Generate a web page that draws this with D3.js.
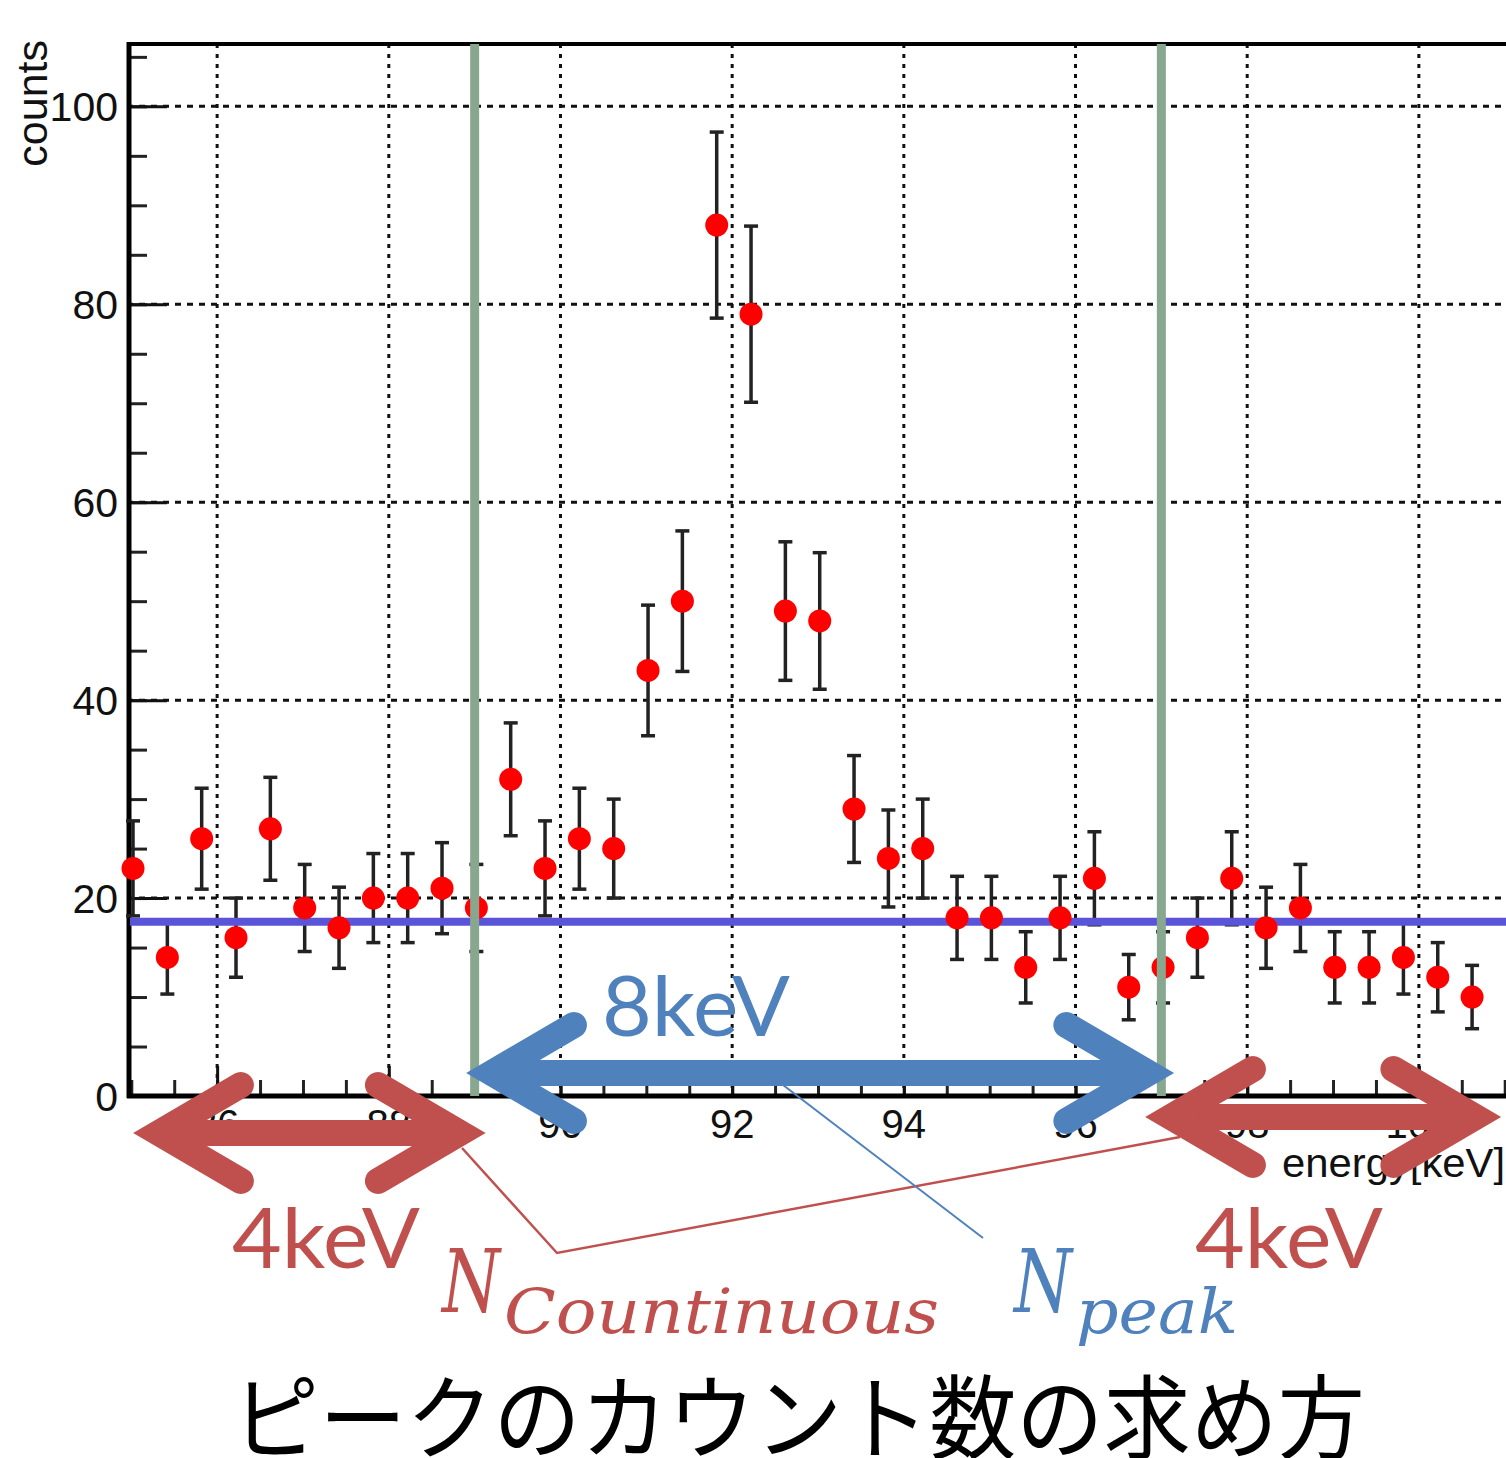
<!DOCTYPE html>
<html>
<head>
<meta charset="utf-8">
<script src="https://cdn.jsdelivr.net/npm/d3@7"></script>
<style>
  body { margin: 0; background: #fff; }
  svg { display: block; }
</style>
</head>
<body>
<svg id="chart"></svg>
<script>
// bin centres (keV) and counts
const energy = [85.02, 85.42, 85.82, 86.22, 86.62, 87.02, 87.42, 87.82, 88.22, 88.62,
                89.02, 89.42, 89.82, 90.22, 90.62, 91.02, 91.42, 91.82, 92.22, 92.62,
                93.02, 93.42, 93.82, 94.22, 94.62, 95.02, 95.42, 95.82, 96.22, 96.62,
                97.02, 97.42, 97.82, 98.22, 98.62, 99.02, 99.42, 99.82, 100.22, 100.62]
const counts = [23, 14, 26, 16, 27, 19, 17, 20, 20, 21,
                19, 32, 23, 26, 25, 43, 50, 88, 79, 49,
                48, 29, 24, 25, 18, 18, 13, 18, 22, 11,
                13, 16, 22, 17, 19, 13, 13, 14, 12, 10]
const errors = [4.8, 3.7, 5.1, 4.0, 5.2, 4.4, 4.1, 4.5, 4.5, 4.6,
                4.4, 5.7, 4.8, 5.1, 5.0, 6.6, 7.1, 9.4, 8.9, 7.0,
                6.9, 5.4, 4.9, 5.0, 4.2, 4.2, 3.6, 4.2, 4.7, 3.3,
                3.6, 4.0, 4.7, 4.1, 4.4, 3.6, 3.6, 3.7, 3.5, 3.2]
const xTicks = [86, 88, 90, 92, 94, 96, 98, 100]
const yTicks = [0, 20, 40, 60, 80, 100]
const background = 17.6      // flat continuum level
const windowEdges = [89, 97] // peak window

const width = 1506
let height = 1458

const x = d3.scaleLinear().domain([84.95, 101.05]).range([127, 1509])
const y = d3.scaleLinear().domain([0, 106.3]).range([1096, 44])

const svg = d3.select("#chart")
    .attr("width", width)
    .attr("height", height)
    .attr("viewBox", [0, 0, width, height])

const helv = "Liberation Sans, Arial, sans-serif"

// grid
const grid = svg.append("g").attr("stroke", "#111").attr("stroke-width", 3)
grid.selectAll(".gx")
  .data(xTicks)
  .join("line")
    .attr("x1", d => x(d)).attr("x2", d => x(d))
    .attr("y1", y.range()[1]).attr("y2", y.range()[0])
    .attr("stroke-dasharray", "4,6")
grid.selectAll(".gy")
  .data(yTicks.slice(1))
  .join("line")
    .attr("x1", x.range()[0]).attr("x2", x.range()[1])
    .attr("y1", d => y(d)).attr("y2", d => y(d))
    .attr("stroke-dasharray", "6,6")

// axes with ROOT-like minor ticks
svg.append("g").attr("transform", `translate(0,${y(0)})`)
  .call(d3.axisTop(x).tickValues(d3.range(85, 101.01, 0.5)).tickSize(16).tickFormat(""))
  .call(g => g.select(".domain").remove())
  .call(g => g.selectAll("line").attr("stroke", "#222").attr("stroke-width", 3))
svg.append("g").attr("transform", `translate(0,${y(0)})`)
  .call(d3.axisTop(x).tickValues(xTicks).tickSize(30).tickFormat(""))
  .call(g => g.select(".domain").remove())
  .call(g => g.selectAll("line").attr("stroke", "#111").attr("stroke-width", 3))
svg.append("g").attr("transform", `translate(${x.range()[0]},0)`)
  .call(d3.axisRight(y).tickValues(d3.range(5, 106, 5)).tickSize(20).tickFormat(""))
  .call(g => g.select(".domain").remove())
  .call(g => g.selectAll("line").attr("stroke", "#222").attr("stroke-width", 3))
svg.append("g").attr("transform", `translate(${x.range()[0]},0)`)
  .call(d3.axisRight(y).tickValues(yTicks).tickSize(40).tickFormat(""))
  .call(g => g.select(".domain").remove())
  .call(g => g.selectAll("line").attr("stroke", "#111").attr("stroke-width", 3))

// frame
svg.append("line").attr("x1", 129).attr("x2", 129).attr("y1", 42).attr("y2", 1098)
    .attr("stroke", "#000").attr("stroke-width", 5)
svg.append("line").attr("x1", 127).attr("x2", width).attr("y1", y(0)).attr("y2", y(0))
    .attr("stroke", "#000").attr("stroke-width", 5)
svg.append("line").attr("x1", 127).attr("x2", width).attr("y1", 44).attr("y2", 44)
    .attr("stroke", "#000").attr("stroke-width", 4)

// tick labels
svg.append("g")
    .attr("font-family", helv).attr("font-size", 40).attr("fill", "#111")
    .attr("text-anchor", "middle")
  .selectAll("text")
  .data(xTicks)
  .join("text")
    .attr("x", d => x(d)).attr("y", 1138)
    .text(d => d)
svg.append("g")
    .attr("font-family", helv).attr("font-size", 41).attr("fill", "#111")
    .attr("text-anchor", "end")
  .selectAll("text")
  .data(yTicks)
  .join("text")
    .attr("x", 118).attr("y", d => y(d) + 15)
    .text(d => d)

svg.append("text")
    .attr("transform", "translate(47,40) rotate(-90)")
    .attr("text-anchor", "end")
    .attr("font-family", helv).attr("font-size", 43).attr("fill", "#111")
    .text("counts")
svg.append("text")
    .attr("x", 1282).attr("y", 1177)
    .attr("font-family", helv).attr("font-size", 41).attr("fill", "#111")
    .attr("textLength", 223).attr("lengthAdjust", "spacingAndGlyphs")
    .text("energy[keV]")

// error bars
const bars = svg.append("g").attr("stroke", "#222").attr("stroke-width", 3.5)
bars.selectAll(".v")
  .data(energy)
  .join("line")
    .attr("x1", d => x(d)).attr("x2", d => x(d))
    .attr("y1", (d, i) => y(counts[i] + errors[i]))
    .attr("y2", (d, i) => y(counts[i] - errors[i]))
bars.selectAll(".cap")
  .data(energy.flatMap((d, i) => [[d, counts[i] + errors[i]], [d, counts[i] - errors[i]]]))
  .join("line")
    .attr("x1", d => x(d[0]) - 7).attr("x2", d => x(d[0]) + 7)
    .attr("y1", d => y(d[1])).attr("y2", d => y(d[1]))

// background level
svg.append("line")
    .attr("x1", 130).attr("x2", width)
    .attr("y1", y(background)).attr("y2", y(background))
    .attr("stroke", "#5a55d8").attr("stroke-width", 8)

// points
svg.append("g").attr("fill", "#ff0000")
  .selectAll("circle")
  .data(energy)
  .join("circle")
    .attr("cx", d => x(d))
    .attr("cy", (d, i) => y(counts[i]))
    .attr("r", 11.5)

// window lines
svg.append("g").attr("stroke", "#88a78f").attr("stroke-width", 9)
  .selectAll("line")
  .data(windowEdges)
  .join("line")
    .attr("x1", d => x(d)).attr("x2", d => x(d))
    .attr("y1", 44).attr("y2", y(0))

// ---- annotations ----
const blue = "#4f81bd", red = "#c0504d"

function doubleArrow(x1, x2, yy, color) {
  const L = 107, H = 48, w = 26, inset = 25
  const g = svg.append("g").attr("fill", "none").attr("stroke", color).attr("stroke-width", w)
  g.append("line").attr("x1", x1 + inset).attr("x2", x2 - inset).attr("y1", yy).attr("y2", yy)
  g.append("path")
      .attr("d", `M${x1 + L},${yy - H}L${x1 + inset},${yy}L${x1 + L},${yy + H}`)
      .attr("stroke-linejoin", "miter").attr("stroke-linecap", "round")
  g.append("path")
      .attr("d", `M${x2 - L},${yy - H}L${x2 - inset},${yy}L${x2 - L},${yy + H}`)
      .attr("stroke-linejoin", "miter").attr("stroke-linecap", "round")
}

// thin leader lines
svg.append("polyline")
    .attr("points", "462,1148 557,1253 1180,1137")
    .attr("fill", "none").attr("stroke", red).attr("stroke-width", 2.5)
svg.append("line")
    .attr("x1", 770).attr("y1", 1075).attr("x2", 983).attr("y2", 1238)
    .attr("stroke", blue).attr("stroke-width", 2)

doubleArrow(x(88.91), x(97.14), 1073, blue)
doubleArrow(x(85.03), x(89.12), 1133, red)
doubleArrow(x(96.82), x(100.95), 1117, red)

const calib = "Lato, Carlito, sans-serif"
svg.append("text").attr("x", 602).attr("y", 1036)
    .attr("font-family", calib).attr("font-size", 84).attr("fill", blue)
    .attr("textLength", 188).attr("lengthAdjust", "spacingAndGlyphs")
    .text("8keV")
svg.append("text").attr("x", 232).attr("y", 1268)
    .attr("font-family", calib).attr("font-size", 84).attr("fill", red)
    .attr("textLength", 188).attr("lengthAdjust", "spacingAndGlyphs")
    .text("4keV")
svg.append("text").attr("x", 1195).attr("y", 1268)
    .attr("font-family", calib).attr("font-size", 84).attr("fill", red)
    .attr("textLength", 188).attr("lengthAdjust", "spacingAndGlyphs")
    .text("4keV")

const serif = "DejaVu Serif, serif"
function mathLabel(x0, base, main, sub, subLen, color) {
  const t = svg.append("text").attr("font-family", serif).attr("font-style", "italic")
      .attr("fill", color)
  t.append("tspan").attr("x", x0).attr("y", base).attr("font-size", 88)
      .attr("textLength", 58).attr("lengthAdjust", "spacingAndGlyphs").text(main)
  t.append("tspan").attr("x", x0 + 62).attr("y", base + 21).attr("font-size", 62)
      .attr("textLength", subLen).attr("lengthAdjust", "spacingAndGlyphs").text(sub)
}
mathLabel(442, 1312, "N", "Countinuous", 435, red)
mathLabel(1014, 1312, "N", "peak", 162, blue)

svg.append("text").attr("x", 232).attr("y", 1452)
    .attr("font-family", "Noto Sans CJK JP, sans-serif").attr("font-size", 92).attr("fill", "#000")
    .attr("textLength", 1133).attr("lengthAdjust", "spacingAndGlyphs")
    .text("ピークのカウント数の求め方")
</script>
</body>
</html>
